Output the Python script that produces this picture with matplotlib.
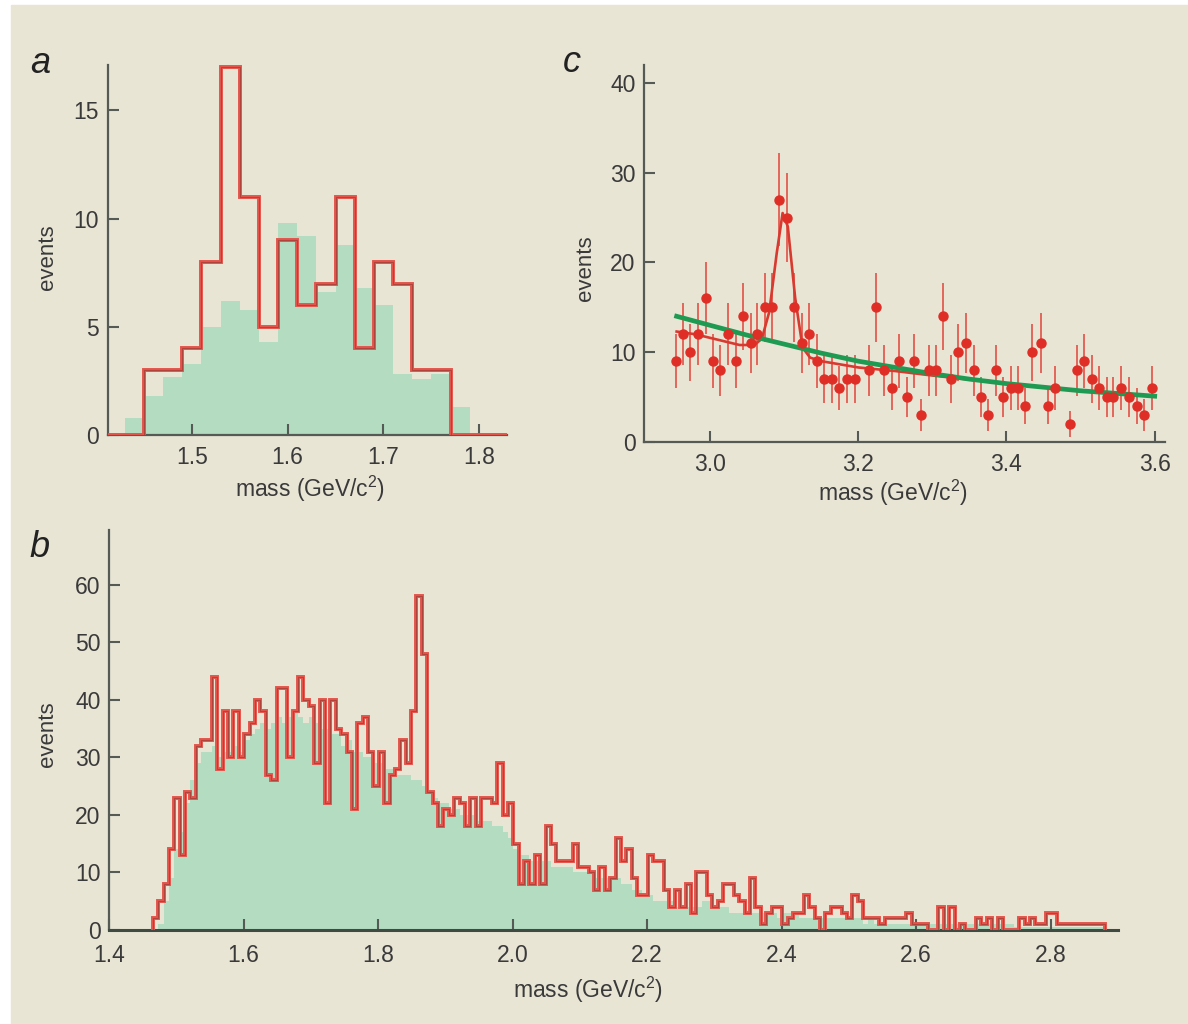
"""Três painéis de massa invariante: a, b (Xi pi) e c (D* p)."""
import numpy as np
import matplotlib
matplotlib.use("Agg")
import matplotlib.pyplot as plt

plt.rcParams["font.family"] = ["Liberation Sans", "DejaVu Sans"]
plt.rcParams["mathtext.fontset"] = "custom"
plt.rcParams["mathtext.rm"] = "Liberation Sans"

BG = "#e8e5d5"
RED = "#e4524a"
DARK = "#8a3b33"
GREEN = "#b3dcc1"
AXC = "#555a55"
TXT = "#3a3a3a"

# ---- painel a: bins de 0.02 GeV
a_edges = [1.43, 1.45, 1.47, 1.49, 1.51, 1.53, 1.55, 1.57, 1.59, 1.61,
           1.63, 1.65, 1.67, 1.69, 1.71, 1.73, 1.75, 1.77, 1.79]
a_red = [0, 3, 3, 4, 8, 17, 11, 5, 9, 6, 7, 11, 4, 8, 7, 3, 3, 0]
a_green = [0.8, 1.8, 2.7, 3.3, 5.0, 6.2, 5.8, 4.3, 9.8, 9.2, 6.6, 8.8,
           6.8, 6.0, 2.8, 2.6, 2.8, 1.3]

# ---- painel b: bins de 0.008 GeV a partir de 1.465
b_start = 1.465
b_width = 0.008
b_red = [2, 5, 8, 14, 23, 13, 24, 23, 32, 33, 33, 44, 28, 38, 30, 38, 30, 34, 36, 40,
         38, 27, 26, 42, 42, 30, 38, 44, 40, 39, 29, 40, 22, 40, 35, 34, 31, 21, 36, 37,
         31, 25, 31, 22, 27, 28, 33, 29, 38,
         58, 48,
         24, 22, 18, 21, 20, 23, 22, 18, 23, 18, 23, 23, 22, 29, 20, 22, 15, 8, 12, 8,
         13, 8, 18, 15, 12, 12, 12,
         15, 11, 11, 10, 7, 11, 7, 9, 16, 12, 14, 9, 6, 6, 13, 12, 12, 7, 4, 7,
         4, 8, 3, 10, 10, 6, 4, 5, 8, 8, 6, 5, 3, 9, 4, 1, 3, 4, 4, 1,
         2, 3, 3, 6, 4, 2, 0, 3, 4, 4, 3, 2, 6,
         5, 2, 2, 2, 1, 2, 2, 2, 2, 3, 1, 1, 1, 0, 0, 4, 0, 4, 0, 1,
         0, 0, 2, 1, 2, 0, 2, 0, 0, 0, 2, 1, 2, 1, 1, 3, 3, 1, 1, 1,
         1, 1, 1, 1, 1, 1]
b_green = [0, 1, 5, 9, 14, 17, 22, 26, 29, 31, 31, 32, 30, 31, 31, 32, 31, 33, 34, 35,
           36, 35, 36, 37, 36, 37, 38, 37, 36, 37, 36, 35, 35, 34, 34, 32, 33, 31, 31, 30,
           30, 29, 29, 28, 28, 27, 27, 27, 26, 26, 25, 24, 23, 22, 22, 21, 21, 20, 20, 20,
           19, 19, 19, 18, 18, 17, 16, 14, 13, 13, 12, 12, 12, 12, 11, 11, 11, 11, 10, 10,
           10, 10, 9, 9, 9, 9, 9, 8, 8, 7, 7, 6, 6, 5, 5, 5, 5, 4, 4, 4,
           4, 4, 5, 5, 4, 4, 4, 3, 3, 3, 3, 3, 3, 3, 3, 3, 2, 3, 3, 3,
           2, 2, 2, 2, 2, 2, 2, 2, 2, 2, 2, 2, 1, 2, 1, 1, 1, 1, 1, 1,
           1, 1, 1, 1, 1, 1, 1, 1, 1, 1, 1, 1, 1, 1,
           1, 1, 1, 1, 1, 1, 0.5, 0.5, 0.5, 0.5, 0.5, 0.5, 0.5, 0.5, 0.5, 0.5,
           0.5, 0.5, 0.5, 0.5, 0.5, 0.5, 0.5]
b_edges = b_start + b_width * np.arange(len(b_red) + 1)

# ---- painel c: pontos com erro e ajustes
c_mass = [2.954, 2.964, 2.973, 2.984, 2.994, 3.004, 3.014, 3.024, 3.035, 3.044,
          3.055, 3.064, 3.074, 3.084, 3.093, 3.104, 3.114, 3.124, 3.134, 3.145,
          3.154, 3.164, 3.174, 3.185, 3.195, 3.215, 3.224, 3.235, 3.245, 3.255,
          3.266, 3.275, 3.285, 3.296, 3.305, 3.315, 3.325, 3.335, 3.346, 3.356,
          3.366, 3.375, 3.386, 3.395, 3.406, 3.416, 3.425, 3.435, 3.446, 3.456,
          3.465, 3.486, 3.495, 3.505, 3.515, 3.525, 3.535, 3.544, 3.555, 3.566,
          3.576, 3.586, 3.596]
c_events = [9, 12, 10, 12, 16, 9, 8, 12, 9, 14,
            11, 12, 15, 15, 27, 25, 15, 11, 12, 9,
            7, 7, 6, 7, 7, 8, 15, 8, 6, 9,
            5, 9, 3, 8, 8, 14, 7, 10, 11, 8,
            5, 3, 8, 5, 6, 6, 4, 10, 11, 4,
            6, 2, 8, 9, 7, 6, 5, 5, 6, 5,
            4, 3, 6]
fit_sig_m = [2.955, 2.98, 3.00, 3.02, 3.04, 3.06, 3.07, 3.08, 3.09, 3.098,
             3.105, 3.115, 3.125, 3.135, 3.15, 3.20, 3.25, 3.30, 3.40, 3.50, 3.60]
fit_sig_v = [12.3, 12.0, 11.6, 11.2, 10.8, 10.8, 11.5, 14.5, 21.0, 25.5,
             24.0, 16.0, 10.5, 9.4, 9.0, 8.3, 7.9, 7.4, 6.5, 5.7, 5.1]
fit_bg_m = [2.955, 3.00, 3.05, 3.10, 3.15, 3.20, 3.25, 3.30, 3.35, 3.40,
            3.45, 3.50, 3.55, 3.60]
fit_bg_v = [14.0, 13.0, 11.9, 10.9, 9.9, 9.0, 8.3, 7.6, 7.0, 6.5,
            6.1, 5.7, 5.4, 5.1]


def _estilo(ax, ylab_xy, xlab_xy):
    ax.set_facecolor("none")
    for s in ("top", "right"):
        ax.spines[s].set_visible(False)
    for s in ("left", "bottom"):
        ax.spines[s].set_color(AXC)
        ax.spines[s].set_linewidth(1.6)
    ax.tick_params(direction="in", length=8, width=1.5, color=AXC,
                   labelsize=16.5, labelcolor=TXT, pad=6)
    ax.tick_params(axis="x", pad=8)
    ax.set_ylabel("events", fontsize=16, color=TXT, va="center")
    ax.set_xlabel("mass (GeV/c$^2$)", fontsize=16.5, color=TXT, va="center")
    ax.yaxis.set_label_coords(*ylab_xy)
    ax.xaxis.set_label_coords(*xlab_xy)


def _contorno(ax, edges, vals):
    # contorno vermelho com um filete escuro por dentro
    ax.stairs(vals, edges, baseline=0, color=RED, lw=2.8, zorder=3)
    ax.stairs(vals, edges, baseline=0, color=DARK, lw=0.6, alpha=0.7, zorder=4)


fig = plt.figure(figsize=(11.88, 10.24), dpi=100)
fig.patch.set_facecolor("white")
fig.add_artist(plt.Rectangle((0.009, 0), 0.991, 0.995, transform=fig.transFigure,
                             color=BG, zorder=-10))

# painel a
ax_a = fig.add_axes([0.0905, 0.5752, 0.3363, 0.3613])
ax_a.bar(a_edges[:-1], a_green, width=0.02, align="edge", color=GREEN, lw=0, zorder=1)
_contorno(ax_a, a_edges[1:-1], a_red[1:-1])
ax_a.plot([1.412, 1.45], [0, 0], color=RED, lw=2.8, zorder=3)
ax_a.plot([1.77, 1.829], [0, 0], color=RED, lw=2.8, zorder=3)
ax_a.set_xlim(1.412, 1.829)
ax_a.set_ylim(0, 17.1)
ax_a.set_xticks([1.5, 1.6, 1.7, 1.8])
ax_a.set_yticks([0, 5, 10, 15])
_estilo(ax_a, (-0.151, 0.48), (0.507, -0.145))

# painel c
ax_c = fig.add_axes([0.5421, 0.5684, 0.4386, 0.3682])
ax_c.errorbar(c_mass, c_events, yerr=np.sqrt(c_events), fmt="none",
              ecolor="#e3665b", elinewidth=1.4, zorder=2)
ax_c.plot(fit_sig_m, fit_sig_v, color="#d83a30", lw=1.9, zorder=3)
ax_c.plot(fit_bg_m, fit_bg_v, color="#1f9a52", lw=3.4, zorder=4)
ax_c.plot(c_mass, c_events, "o", color="#df2e26", ms=6.5, zorder=5)
ax_c.set_xlim(2.911, 3.614)
ax_c.set_ylim(0, 42)
ax_c.set_xticks([3.0, 3.2, 3.4, 3.6])
ax_c.set_xticklabels(["3.0", "3.2", "3.4", "3.6"])
ax_c.set_yticks([0, 10, 20, 30, 40])
_estilo(ax_c, (-0.113, 0.46), (0.478, -0.135))

# painel b
ax_b = fig.add_axes([0.0918, 0.0918, 0.8493, 0.3906])
ax_b.bar(b_edges[:-1], b_green, width=b_width, align="edge", color=GREEN, lw=0, zorder=1)
_contorno(ax_b, b_edges, b_red)
ax_b.set_xlim(1.4, 2.90)
ax_b.set_ylim(0, 69.5)
ax_b.set_xticks([1.4, 1.6, 1.8, 2.0, 2.2, 2.4, 2.6, 2.8])
ax_b.set_xticklabels(["1.4", "1.6", "1.8", "2.0", "2.2", "2.4", "2.6", "2.8"])
ax_b.set_yticks([0, 10, 20, 30, 40, 50, 60])
_estilo(ax_b, (-0.0614, 0.49), (0.475, -0.15))
ax_b.tick_params(axis="x", pad=10)
ax_b.spines["bottom"].set_color("#3f4a42")
ax_b.spines["bottom"].set_linewidth(2.2)

# letras dos painéis
for txt, x, y in (("a", 0.034, 0.938), ("c", 0.481, 0.939), ("b", 0.033, 0.465)):
    fig.text(x, y, txt, fontsize=26, style="italic", color="#222", ha="center", va="center")

fig.savefig("out.png", dpi=100, facecolor=fig.get_facecolor())
